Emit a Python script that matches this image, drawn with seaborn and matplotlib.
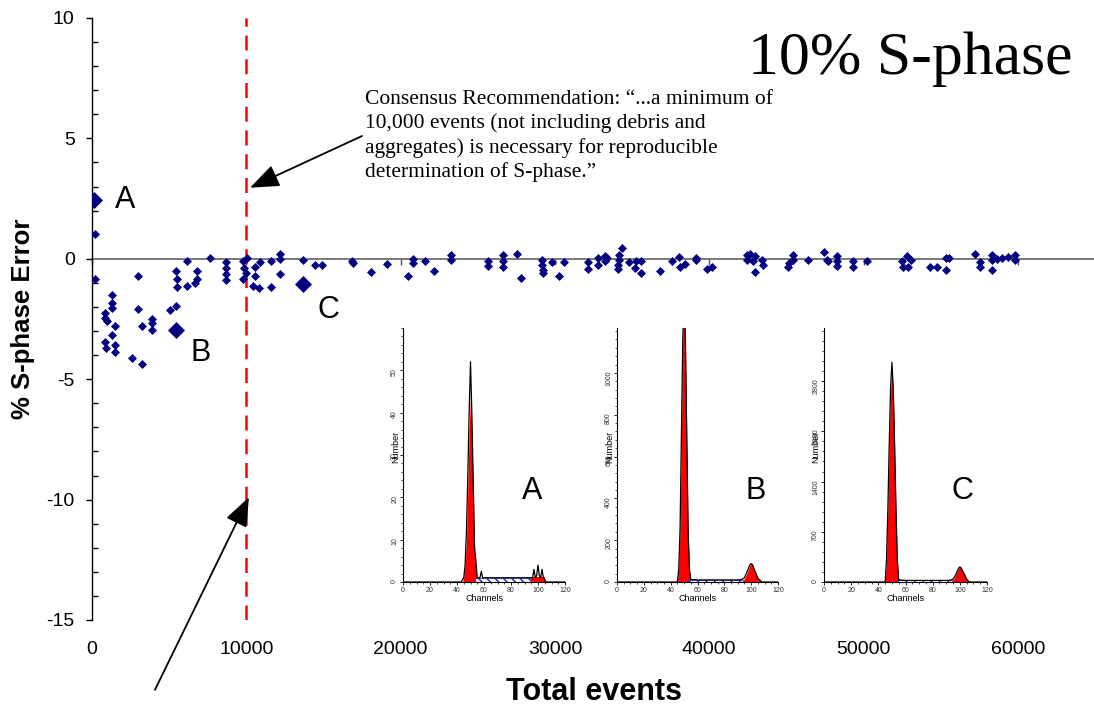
import pandas as pd
import matplotlib
matplotlib.use("Agg")
import matplotlib.pyplot as plt
from matplotlib.ticker import MultipleLocator, AutoMinorLocator
import seaborn as sns

# main scatter: total events vs % S-phase error
events = [200, 200, 1320, 1320, 1320, 840, 840, 950, 1490, 1320, 850, 900, 1490, 1490,
          2570, 3220, 3000, 3000, 3220, 3870, 3870, 3870, 5050, 5440, 5440, 5490, 5490,
          6140, 6140, 6790, 6790, 6680, 7650, 8680, 8680, 8680, 8680, 9800, 10020, 9870,
          9960, 9800, 10560, 10890, 10560, 10450, 10840, 11580, 11580, 12180, 12180, 12180,
          13690, 14450, 14890, 16830, 16900, 18060,
          19140, 20460, 20830, 20830, 21580, 22160, 23250, 23250, 25680, 25680, 26660,
          26660, 26660, 27570, 27800, 29140, 29140, 29250, 29250, 29790, 30270, 30590,
          32170, 32170, 32810, 32810, 33240, 33240, 33350, 34370, 34180, 34180, 34110,
          34110, 34820, 35250, 35580, 35180, 35580, 36810, 37610, 38040, 38110, 38430,
          39120, 39120, 39840, 40160,
          42430, 42430, 42640, 42960, 42860, 42960, 43390, 43500, 45450, 45450, 45190,
          45130, 46380, 47440, 47610, 47720, 48260, 48260, 48300, 49340, 49340, 50250,
          52470, 52790, 52570, 52900, 53060, 54310, 54740, 55340, 55340, 55560, 57230,
          57540, 57540, 58300, 58300, 58300, 58620, 58950, 59380, 59820, 59820]
error = [1.04, -0.83, -1.5, -1.84, -2.05, -2.26, -2.47, -2.6, -2.79, -3.16, -3.46, -3.71,
         -3.58, -3.88, -4.13, -4.37, -0.73, -2.08, -2.81, -2.51, -2.67, -2.95, -2.12,
         -1.95, -0.5, -0.83, -1.19, -0.11, -1.11, -0.5, -0.83, -1.01, 0.05, -0.15, -0.39,
         -0.62, -0.87, -0.11, 0.05, -0.39, -0.6, -0.83, -0.35, -0.15, -0.73, -1.15, -1.22,
         -0.11, -1.18, 0.21, -0.01, -0.62, -0.04, -0.25, -0.25, -0.08, -0.18, -0.55,
         -0.21, -0.73, 0.0, -0.18, -0.11, -0.5, 0.14, -0.04, -0.11, -0.28, 0.14, -0.11,
         -0.32, 0.2, -0.78, -0.04, -0.25, -0.46, -0.6, -0.15, -0.73, -0.15, -0.15, -0.43,
         0.05, -0.25, 0.1, -0.11, 0.03, 0.44, 0.17, -0.04, -0.25, -0.43, -0.15, -0.11,
         -0.11, -0.39, -0.6, -0.5, -0.11, 0.07, -0.32, -0.22, 0.05, -0.04, -0.43, -0.35,
         0.17, -0.04, 0.2, 0.1, -0.11, -0.53, -0.04, -0.25, 0.17, -0.04, -0.18, -0.32,
         -0.04, 0.28, -0.04, -0.11, 0.1, -0.11, -0.29, -0.11, -0.32, -0.11, -0.11, 0.1,
         -0.32, -0.32, -0.04, -0.36, -0.36, -0.46, 0.03, 0.03, 0.2, -0.15, -0.36, 0.17,
         -0.07, -0.46, -0.01, 0.03, 0.07, 0.17, -0.07]

key_events = [130, 5440, 13690]
key_error = [2.43, -2.95, -1.04]
key_names = ["A", "B", "C"]
key_label_x = [1490, 6415, 14640]
key_label_y = [2.43, -3.9, -2.12]

x_ticks = [0, 10000, 20000, 30000, 40000, 50000, 60000]
y_ticks = [-15, -10, -5, 0, 5, 10]
cutoff = 10000

note = ("Consensus Recommendation: \u201c...a minimum of\n"
        "10,000 events (not including debris and\n"
        "aggregates) is necessary for reproducible\n"
        "determination of S-phase.\u201d")

# inset histograms (channel vertices, counts)
a_g1_ch = [44, 45, 46, 47, 48, 49, 50, 51, 52, 53, 54, 55]
a_g1_n = [0, 1, 4, 10, 22, 36, 44, 36, 22, 8, 3, 0]
a_s_ch = [53, 95]
a_s_n = [0.95, 0.95]
a_g2_ch = [95, 105]
a_g2_n = [1.2, 1.2]
a_data_ch = [0, 43, 45, 46, 47, 48, 49, 50, 51, 52, 53, 54, 55, 56, 57, 58, 59, 60, 95,
             96, 97, 98, 99, 100, 101, 102, 103, 104, 105, 106, 120]
a_data_n = [0, 0, 1, 4, 12, 25, 40, 52, 40, 24, 8, 5, 1, 1, 1, 2.5, 1, 1, 1,
            1, 3, 1, 1.5, 4, 1.5, 1, 3, 1, 0.5, 0, 0]

b_g1_ch = [45, 46, 47, 48, 49, 50, 51, 52, 53, 54, 55]
b_g1_n = [0, 60, 250, 700, 1150, 1400, 1150, 700, 250, 60, 0]
b_s_ch = [53, 97]
b_s_n = [10, 10]
b_g2_ch = [93, 95, 97, 99, 100, 101, 103, 105, 108]
b_g2_n = [0, 15, 45, 80, 88, 82, 50, 18, 0]
b_data_ch = [0, 44, 45, 46, 47, 48, 49, 50, 51, 52, 53, 54, 55, 60, 70, 80, 90, 93, 95,
             97, 99, 100, 101, 103, 105, 108, 120]
b_data_n = [0, 0, 0, 60, 250, 700, 1150, 1400, 1150, 700, 250, 60, 12, 10, 10, 10, 10,
            12, 20, 50, 82, 88, 82, 50, 18, 0, 0]

c_g1_ch = [45, 46, 47, 48, 49, 50, 51, 52, 53, 54, 55]
c_g1_n = [0, 300, 1000, 1900, 2650, 2950, 2650, 1900, 1000, 300, 0]
c_s_ch = [54, 95]
c_s_n = [22, 22]
c_g2_ch = [93, 95, 97, 99, 100, 101, 103, 105, 107]
c_g2_n = [0, 25, 100, 190, 210, 195, 120, 40, 0]
c_data_ch = [0, 44, 45, 46, 47, 48, 49, 50, 51, 52, 53, 54, 55, 60, 70, 80, 90, 93, 95,
             97, 99, 100, 101, 103, 105, 107, 120]
c_data_n = [0, 0, 0, 300, 1000, 1900, 2700, 3060, 2700, 1900, 1000, 300, 30, 22, 22, 22,
            22, 25, 40, 100, 190, 210, 195, 120, 40, 0, 0]

sns.set_style("ticks")
plt.rcParams["font.family"] = ["Liberation Sans", "DejaVu Sans"]
plt.rcParams["axes.unicode_minus"] = False
plt.rcParams["text.color"] = "black"
plt.rcParams["axes.labelcolor"] = "black"
plt.rcParams["xtick.color"] = "black"
plt.rcParams["ytick.color"] = "black"

fig = plt.figure(figsize=(10.94, 7.08), dpi=100)
ax = fig.add_axes([92 / 1094, 88 / 708, 1003 / 1094, 602 / 708])

df = pd.DataFrame({"events": events, "error": error})
sns.scatterplot(data=df, x="events", y="error", marker="D", color="#000080",
                s=21, linewidth=0, ax=ax, zorder=4)
sns.scatterplot(x=key_events, y=key_error, marker="D", color="#000080",
                s=75, linewidth=0, ax=ax, zorder=4)
for name, lx, ly in zip(key_names, key_label_x, key_label_y):
    ax.text(lx, ly, name, fontsize=22, ha="left", va="center")

ax.set_xlim(0, 65000)
ax.set_ylim(-15, 10)
for side in ["top", "right", "bottom"]:
    ax.spines[side].set_visible(False)
ax.spines["left"].set_color("black")
ax.spines["left"].set_linewidth(1)

ax.set_xticks(x_ticks)
ax.tick_params(axis="x", length=0, pad=15, labelsize=14)
ax.set_yticks(y_ticks)
ax.yaxis.set_minor_locator(MultipleLocator(1))
ax.tick_params(axis="y", which="major", left=True, direction="out", length=4.5, width=1,
               labelsize=14, pad=8, color="black")
ax.tick_params(axis="y", which="minor", left=True, direction="in", length=4.5, width=1,
               color="black")

# zero line with tick marks pointing down
zero = ax.secondary_xaxis(15 / 25)
zero.set_xticks(x_ticks)
zero.tick_params(axis="x", top=True, bottom=False, direction="in", length=4.5, width=1,
                 color="#555555", labeltop=False, labelbottom=False)
for sp in zero.spines.values():
    sp.set_color("#555555")
    sp.set_linewidth(1.1)

ax.axvline(cutoff, color="#ff0000", lw=1.8, linestyle=(0, (6, 3.5)), zorder=3)

arrow = dict(arrowstyle="-|>,head_length=0.9,head_width=0.35", mutation_scale=20,
             color="black", lw=1.3, shrinkA=0, shrinkB=0)
ax.annotate("", xy=(10240, 2.95), xytext=(17500, 5.1), arrowprops=arrow)
ax.annotate("", xy=(10170, -9.9), xytext=(4080, -17.9), arrowprops=arrow,
            annotation_clip=False)

ax.set_xlabel("Total events", fontsize=22, fontweight="bold")
ax.xaxis.set_label_coords(0.5, -0.094)
ax.set_ylabel("% S-phase Error", fontsize=18.5, fontweight="bold")
ax.yaxis.set_label_coords(-0.057, 0.5)

fig.text(748 / 1094, 1 - 74 / 708, "10% S-phase", family="Liberation Serif",
         fontsize=44.6, ha="left", va="baseline")
fig.text(365 / 1094, 1 - 90 / 708, note, family="Liberation Serif", fontsize=15.5,
         ha="left", va="top", linespacing=1.3)

insets = [
    ([403, 162], 60, [0, 10, 20, 30, 40, 50], a_g1_ch, a_g1_n, a_s_ch, a_s_n,
     a_g2_ch, a_g2_n, a_data_ch, a_data_n, "A", 0.80),
    ([617, 161], 1215, [0, 200, 400, 600, 800, 1000], b_g1_ch, b_g1_n, b_s_ch, b_s_n,
     b_g2_ch, b_g2_n, b_data_ch, b_data_n, "B", 0.86),
    ([824, 163], 3540, [0, 700, 1400, 2100, 2800], c_g1_ch, c_g1_n, c_s_ch, c_s_n,
     c_g2_ch, c_g2_n, c_data_ch, c_data_n, "C", 0.85),
]

for (left, width), ymax, yt, g1x, g1y, sx, sy, g2x, g2y, dx, dy, letter, lx in insets:
    iax = fig.add_axes([left / 1094, 126 / 708, width / 1094, 254 / 708])
    iax.patch.set_alpha(0)
    iax.fill_between(g1x, g1y, color="#ff0000", lw=0, zorder=2)
    iax.fill_between(sx, sy, facecolor="white", edgecolor="#2020c0", hatch="\\\\\\\\",
                     lw=0.5, zorder=2)
    iax.fill_between(g2x, g2y, color="#ff0000", lw=0, zorder=2)
    sns.lineplot(x=dx, y=dy, color="black", lw=0.9, estimator=None, ax=iax, zorder=3)
    iax.set_xlim(0, 120)
    iax.set_ylim(0, ymax)
    iax.set_xticks(range(0, 121, 20))
    iax.xaxis.set_minor_locator(MultipleLocator(5))
    iax.set_yticks(yt)
    iax.yaxis.set_minor_locator(AutoMinorLocator(5))
    iax.tick_params(which="both", left=True, bottom=True)
    iax.tick_params(which="major", direction="out", length=2.5, width=0.6,
                    labelsize=5, pad=1, color="black", labelcolor="#333333")
    iax.tick_params(which="minor", direction="out", length=1.6, width=0.5, color="black")
    iax.tick_params(axis="y", labelrotation=90)
    for side in ["top", "right"]:
        iax.spines[side].set_visible(False)
    for side in ["left", "bottom"]:
        iax.spines[side].set_color("black")
        iax.spines[side].set_linewidth(0.8)
    iax.set_xlabel("Channels", fontsize=6.5, labelpad=0)
    iax.set_ylabel("Number", fontsize=6.5)
    iax.yaxis.set_label_coords(-0.02, 0.53)
    iax.text(lx, 0.36, letter, transform=iax.transAxes, fontsize=22,
             ha="center", va="center")

fig.savefig("out.png", dpi=100)
